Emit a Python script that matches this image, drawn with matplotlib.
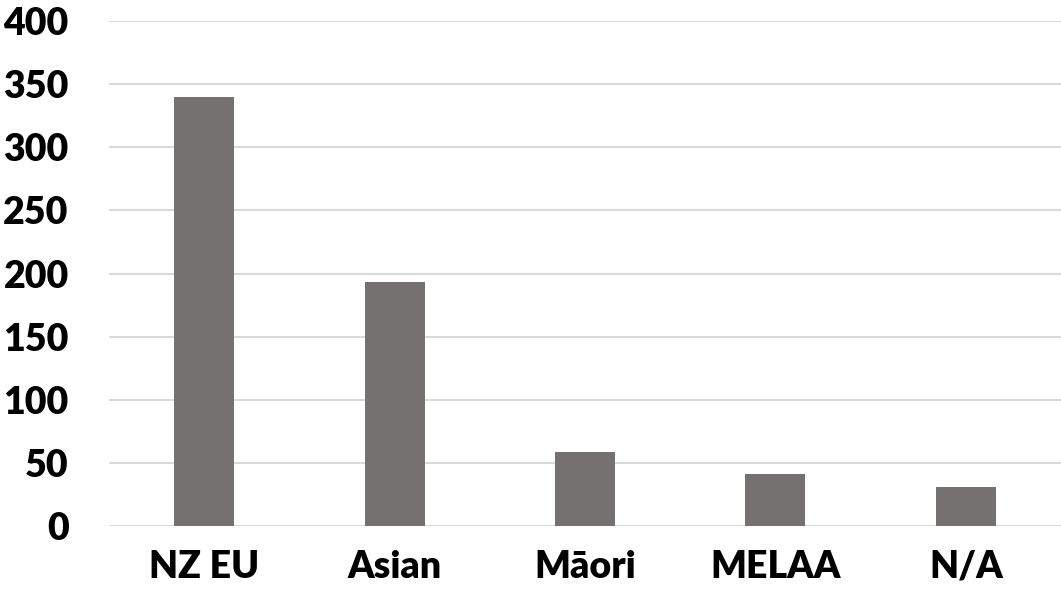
import matplotlib.pyplot as plt
import numpy as np

groups = ["NZ EU", "Asian", "Māori", "MELAA", "N/A"]
counts = [340, 193, 59, 41, 31]
y_ticks = [0, 50, 100, 150, 200, 250, 300, 350, 400]

BAR_COLOR = "#767171"
GRID_COLOR = "#D9D9D9"

plt.rcParams['font.family'] = ['Lato', 'DejaVu Sans']

fig = plt.figure(figsize=(10.61, 6.02), dpi=100)
ax = fig.add_axes([109 / 1061, 1 - 526 / 602, 952 / 1061, 505 / 602])

x = np.arange(len(groups))
ax.bar(x, counts, width=0.315, color=BAR_COLOR, zorder=3)

ax.set_xlim(-0.5, len(groups) - 0.5)
ax.set_ylim(0, 400)
ax.set_yticks(y_ticks)
ax.set_xticks(x)
ax.set_xticklabels(groups)
ax.yaxis.grid(True, color=GRID_COLOR, linewidth=1.5, zorder=0)
ax.tick_params(axis='both', length=0, labelsize=27)
ax.tick_params(axis='y', pad=29)
ax.tick_params(axis='x', pad=17)
for lbl in ax.get_xticklabels() + ax.get_yticklabels():
    lbl.set_fontweight('heavy')
for side in ["top", "right", "left", "bottom"]:
    ax.spines[side].set_visible(False)

fig.savefig("out.png", dpi=100, facecolor="white")
